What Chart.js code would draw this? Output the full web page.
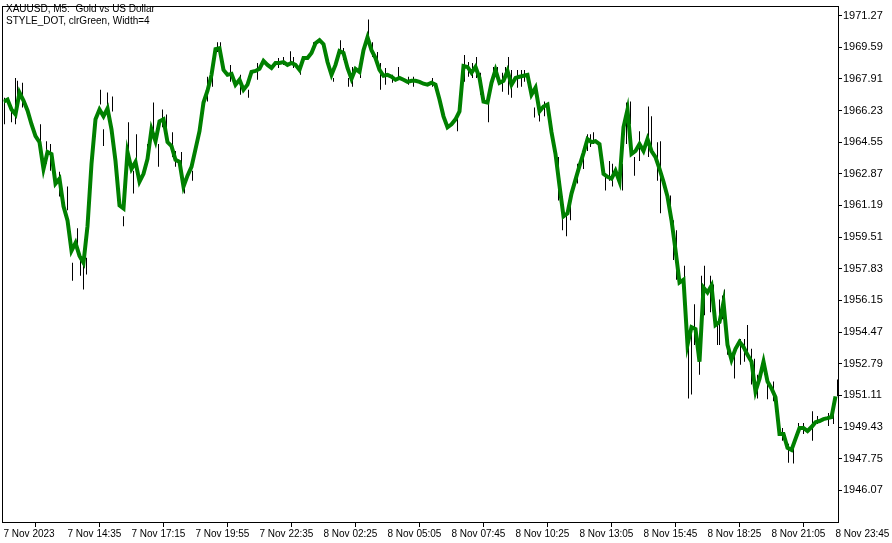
<!DOCTYPE html>
<html>
<head>
<meta charset="utf-8">
<script src="https://cdn.jsdelivr.net/npm/chart.js@4.4.0/dist/chart.umd.min.js"></script>
<style>
  html, body { margin: 0; padding: 0; background: #fff; }
  #wrap { width: 892px; height: 543px; }
</style>
</head>
<body>
<div id="wrap"><canvas id="chart" width="892" height="543"></canvas></div>
<script>
const titleLines = ["XAUUSD, M5:  Gold vs US Dollar", "STYLE_DOT, clrGreen, Width=4"];

// one label every 16 points (each point = 10 min, two M5 bars)
const timeLabels = [
  "7 Nov 2023", "7 Nov 14:35", "7 Nov 17:15", "7 Nov 19:55", "7 Nov 22:35",
  "8 Nov 02:25", "8 Nov 05:05", "8 Nov 07:45", "8 Nov 10:25", "8 Nov 13:05",
  "8 Nov 15:45", "8 Nov 18:25", "8 Nov 21:05", "8 Nov 23:45"
];
const pointsPerLabel = 16;

const priceTicks = [
  1971.27, 1969.59, 1967.91, 1966.23, 1964.55, 1962.87, 1961.19, 1959.51,
  1957.83, 1956.15, 1954.47, 1952.79, 1951.11, 1949.43, 1947.75, 1946.07
];

// close line
const closes = [
  1966.70, 1966.81, 1966.28, 1966.02, 1967.18, 1966.76, 1966.23, 1965.50, 1964.87, 1964.55,
  1963.13, 1964.03, 1963.92, 1962.35, 1962.61, 1961.14, 1960.40, 1958.78, 1959.20, 1958.51,
  1958.15, 1960.09, 1963.40, 1965.76, 1966.28, 1965.92, 1966.34, 1965.23, 1963.55, 1961.19,
  1961.03, 1964.03, 1963.13, 1963.50, 1962.45, 1962.87, 1963.66, 1965.23, 1964.60, 1965.65,
  1965.76, 1964.55, 1964.34, 1963.61, 1963.50, 1962.19, 1962.77, 1963.24, 1964.18, 1965.13,
  1966.65, 1967.28, 1968.12, 1969.49, 1969.54, 1968.38, 1968.12, 1968.17, 1967.60, 1967.86,
  1967.33, 1967.60, 1968.28, 1968.33, 1968.44, 1968.86, 1968.65, 1968.49, 1968.75, 1968.75,
  1968.80, 1968.65, 1968.75, 1968.65, 1968.38, 1969.01, 1969.01, 1969.28, 1969.80, 1969.96,
  1969.75, 1968.80, 1968.12, 1968.65, 1969.38, 1969.28, 1968.49, 1967.91, 1968.44, 1968.28,
  1969.43, 1970.12, 1969.43, 1969.01, 1968.38, 1968.07, 1968.12, 1968.02, 1967.86, 1967.96,
  1967.86, 1967.75, 1967.81, 1967.81, 1967.75, 1967.65, 1967.60, 1967.70, 1967.60, 1966.81,
  1965.92, 1965.34, 1965.50, 1965.76, 1966.18, 1968.59, 1968.54, 1968.23, 1968.54, 1967.96,
  1966.70, 1966.65, 1967.70, 1968.38, 1967.70, 1967.81, 1968.33, 1967.60, 1967.96, 1968.02,
  1968.07, 1968.12, 1967.07, 1967.44, 1966.18, 1966.44, 1966.55, 1965.08, 1963.92, 1962.24,
  1960.61, 1960.77, 1961.82, 1962.56, 1963.29, 1963.97, 1964.71, 1964.55, 1964.60, 1964.45,
  1962.87, 1962.71, 1962.61, 1963.03, 1962.45, 1965.34, 1966.28, 1963.92, 1964.08, 1964.45,
  1964.08, 1964.71, 1964.08, 1963.76, 1963.13, 1962.45, 1961.66, 1960.40, 1958.83, 1957.10,
  1957.25, 1953.79, 1954.73, 1954.63, 1952.90, 1956.83, 1956.57, 1956.94, 1954.84, 1955.00,
  1956.05, 1953.79, 1953.00, 1953.58, 1953.95, 1953.68, 1953.26, 1952.90, 1951.32, 1952.00,
  1952.90, 1951.85, 1951.48, 1951.01, 1949.06, 1949.06, 1948.33, 1948.22, 1948.80, 1949.38,
  1949.38, 1949.22, 1949.43, 1949.69, 1949.75, 1949.85, 1949.90, 1949.96, 1951.06
];

// high-low ranges that stick out of the thick line
const wickPos = [
  0.25, 2, 3, 3.5, 4.75, 9.25, 10.75, 11.75, 14, 16,
  17.25, 18.5, 19.25, 20, 20.75, 24.25, 25, 26, 27.25, 30,
  31.25, 32.5, 33.25, 36, 37.5, 38.75, 39.75, 40.75, 42.25, 43,
  44.5, 45.25, 47.25, 51, 52.25, 53.5, 54.25, 56.75, 59.25, 61.25,
  63.5, 68.75, 70, 71.75, 72.5, 74.25, 77.5, 82.5, 84.25, 85,
  86.25, 87.25, 89.25, 91.25, 92.25, 93.5, 94.25, 95.5, 97.25, 98.75,
  101.25, 102.5, 107.25, 113.5, 115.25, 116.25, 117.25, 118.25, 119.25, 121.25,
  122.5, 123.5, 124.75, 125.5, 126.25, 127, 128.5, 129.5, 130.25, 132.75,
  134, 135.25, 138.75, 139.75, 140.75, 141.75, 143.5, 145, 146, 146.75,
  147.5, 150.5, 151.5, 152.25, 154.75, 155.75, 156.75, 157.75, 159, 161.25,
  162, 163.5, 164.25, 166.75, 167.5, 168.25, 170.25, 171.25, 172, 172.75,
  174, 174.5, 175.25, 176.75, 177.5, 178.5, 179, 179.75, 180.25, 181,
  182.75, 184.25, 185.25, 186, 187, 187.75, 188.5, 190.25, 191, 192.5,
  194.75, 196.25, 197.5, 198.75, 200, 202.25, 203.5, 206.25, 207.5, 208.5
];
const wickLow = [
  1965.50, 1965.60, 1965.50, 1966.55, 1966.39, 1964.45, 1963.40, 1963.03, 1961.66, 1960.93,
  1957.20, 1958.83, 1957.46, 1956.73, 1957.52, 1966.55, 1964.34, 1966.39, 1966.18, 1960.09,
  1964.08, 1961.82, 1963.03, 1963.55, 1965.13, 1963.24, 1965.34, 1965.13, 1963.76, 1963.24,
  1963.24, 1961.82, 1962.50, 1966.70, 1967.49, 1969.33, 1969.33, 1967.75, 1967.07, 1966.91,
  1967.86, 1968.49, 1968.65, 1968.80, 1968.49, 1968.12, 1969.54, 1967.75, 1969.33, 1968.91,
  1967.49, 1967.49, 1967.96, 1970.22, 1969.07, 1968.49, 1967.33, 1967.60, 1967.70, 1967.86,
  1967.60, 1967.49, 1967.49, 1965.13, 1967.75, 1968.02, 1967.96, 1967.96, 1967.07, 1965.60,
  1967.96, 1967.96, 1967.23, 1967.96, 1967.07, 1966.91, 1967.44, 1967.49, 1967.75, 1965.86,
  1965.65, 1965.92, 1961.45, 1959.88, 1959.56, 1960.40, 1962.35, 1963.13, 1964.08, 1964.29,
  1964.45, 1961.98, 1962.50, 1962.19, 1961.98, 1964.45, 1965.50, 1962.77, 1963.55, 1963.76,
  1963.92, 1962.50, 1960.77, 1960.77, 1958.30, 1957.25, 1956.05, 1950.95, 1951.16, 1953.79,
  1952.21, 1954.84, 1955.36, 1955.52, 1955.89, 1953.79, 1953.79, 1955.15, 1955.00, 1953.26,
  1952.00, 1952.74, 1952.90, 1953.42, 1951.69, 1951.32, 1950.95, 1952.21, 1950.90, 1950.80,
  1948.70, 1947.54, 1947.49, 1949.06, 1949.06, 1948.70, 1949.59, 1949.48, 1949.59, 1951.06
];
const wickHigh = [
  1966.91, 1966.39, 1967.96, 1967.81, 1967.70, 1965.50, 1964.60, 1964.45, 1962.98, 1962.19,
  1958.15, 1959.98, 1958.30, 1958.15, 1958.41, 1967.33, 1965.23, 1967.18, 1966.97, 1960.61,
  1965.60, 1963.03, 1964.97, 1964.45, 1966.65, 1964.45, 1966.28, 1966.02, 1965.08, 1964.08,
  1964.03, 1962.50, 1963.03, 1968.02, 1968.28, 1969.85, 1969.85, 1968.65, 1968.12, 1967.33,
  1968.75, 1969.01, 1969.07, 1969.38, 1969.07, 1968.80, 1969.85, 1967.96, 1969.96, 1969.54,
  1967.96, 1968.54, 1968.80, 1971.06, 1969.85, 1969.33, 1968.75, 1968.49, 1968.12, 1968.54,
  1968.02, 1968.02, 1967.96, 1966.13, 1969.17, 1968.80, 1968.75, 1969.07, 1968.23, 1967.07,
  1968.54, 1968.54, 1968.23, 1968.54, 1969.07, 1968.38, 1968.38, 1968.38, 1968.38, 1966.39,
  1966.55, 1966.70, 1963.76, 1961.66, 1960.77, 1961.45, 1963.40, 1963.92, 1964.97, 1964.97,
  1965.08, 1962.87, 1963.55, 1963.40, 1963.40, 1966.65, 1966.70, 1963.76, 1965.13, 1966.44,
  1965.92, 1964.55, 1964.60, 1961.72, 1960.40, 1959.88, 1957.99, 1954.31, 1954.47, 1955.94,
  1953.79, 1957.46, 1957.99, 1957.46, 1956.99, 1955.00, 1956.20, 1956.41, 1956.73, 1954.31,
  1953.26, 1954.10, 1954.10, 1954.84, 1953.58, 1953.05, 1952.21, 1953.05, 1951.85, 1951.85,
  1949.38, 1948.54, 1948.70, 1949.64, 1949.64, 1950.27, 1950.01, 1950.17, 1950.27, 1951.95
];

const textFont = "Liberation Sans";

const frameAndTitle = {
  id: "frameAndTitle",
  afterDatasetsDraw(chart) {
    const { ctx, chartArea } = chart;
    ctx.save();
    ctx.strokeStyle = "#000";
    ctx.lineWidth = 1;
    const l = Math.floor(chartArea.left) - 0.5;
    const t = Math.floor(chartArea.top) - 0.5;
    const r = Math.floor(chartArea.right) + 0.5;
    const b = Math.floor(chartArea.bottom) + 0.5;
    ctx.strokeRect(l, t, r - l, b - t);
    ctx.fillStyle = "#000";
    ctx.font = `10px "${textFont}"`;
    ctx.textBaseline = "middle";
    ctx.textAlign = "left";
    titleLines.forEach((line, k) => ctx.fillText(line, 6, 9 + k * 12));
    ctx.restore();
  }
};

new Chart(document.getElementById("chart"), {
  type: "line",
  data: {
    datasets: [
      {
        type: "line",
        label: "Close",
        data: closes.map((v, i) => ({ x: i, y: v })),
        borderColor: "#008000",
        borderWidth: 4,
        pointRadius: 0,
        tension: 0,
        fill: false,
        order: 0,
      },
      {
        type: "bar",
        label: "Range",
        data: wickPos.map((p, k) => ({ x: p, y: [wickLow[k], wickHigh[k]] })),
        backgroundColor: "#000",
        borderWidth: 0,
        barThickness: 1,
        inflateAmount: 0,
        order: 1,
      },
    ],
  },
  options: {
    responsive: false,
    animation: false,
    layout: { padding: { left: 3.5, top: 2, right: 0, bottom: 0 } },
    plugins: { legend: { display: false }, tooltip: { enabled: false } },
    scales: {
      x: {
        type: "linear",
        min: 0,
        max: 208.625,
        offset: false,
        border: { display: false },
        grid: { drawOnChartArea: false, drawTicks: true, tickLength: 5, color: "#000" },
        ticks: {
          autoSkip: false,
          maxRotation: 0,
          align: "start",
          padding: 1,
          color: "#000",
          font: { family: textFont, size: 10 },
          callback: (v) => timeLabels[Math.round(v / pointsPerLabel)] ?? "",
        },
        afterBuildTicks: (s) => { s.ticks = timeLabels.map((_, k) => ({ value: k * pointsPerLabel })); },
        afterFit: (s) => { s.height = 21; },
      },
      y: {
        type: "linear",
        position: "right",
        min: 1944.39,
        max: 1971.69,
        border: { display: false },
        grid: { drawOnChartArea: false, drawTicks: true, tickLength: 4, color: "#000" },
        ticks: {
          padding: 1,
          color: "#000",
          font: { family: textFont, size: 11 },
          callback: (v) => v.toFixed(2),
        },
        afterBuildTicks: (s) => { s.ticks = priceTicks.map((v) => ({ value: v })); },
        afterFit: (s) => { s.width = 54; },
      },
    },
  },
  plugins: [frameAndTitle],
});
</script>
</body>
</html>
